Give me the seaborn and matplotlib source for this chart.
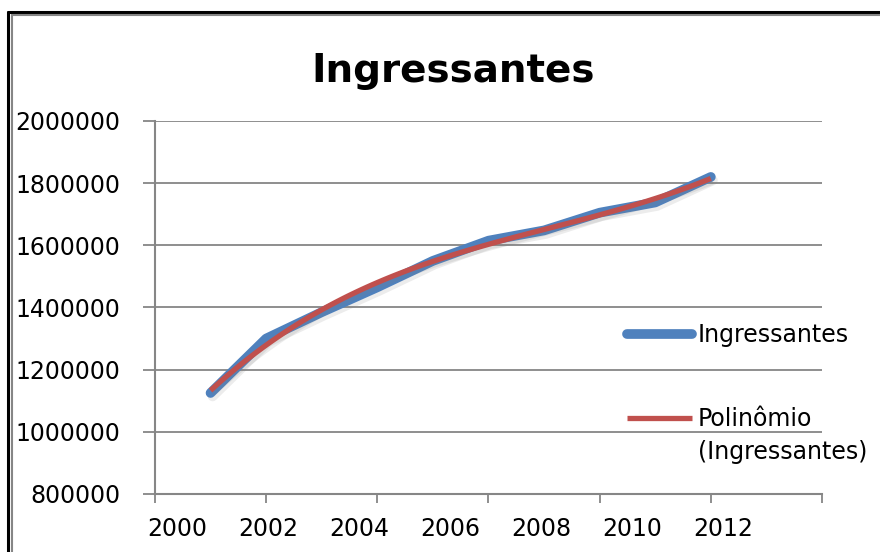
import numpy as np
import pandas as pd
import matplotlib
matplotlib.use("Agg")
import matplotlib.pyplot as plt
import matplotlib.patheffects as pe
from matplotlib.lines import Line2D
import seaborn as sns

# data
years = [2001, 2002, 2003, 2004, 2005, 2006, 2007, 2008, 2009, 2010]
ingressantes = [1125000, 1300000, 1385000, 1465000, 1550000,
                1615000, 1648000, 1705000, 1738000, 1820000]
x_ticks = [2000, 2002, 2004, 2006, 2008, 2010, 2012]
x_labels = ["2000", "2002", "2004", "2006", "2008", "2010", "2012"]
y_ticks = [800000, 1000000, 1200000, 1400000, 1600000, 1800000, 2000000]
legend_labels = ["Ingressantes", "Polinômio"]

df = pd.DataFrame({"Ano": years, "Ingressantes": ingressantes})

sns.set_theme(style="white")
plt.rcParams["font.family"] = ["DejaVu Sans"]

blue = "#4F81BD"
red = "#C0504D"
grid_c = "#868686"

fig = plt.figure(figsize=(8.8, 5.52), dpi=100)
ax = fig.add_axes([0.1761, 0.1051, 0.758, 0.6757])

shadow = [pe.SimpleLineShadow(offset=(1.5, -2.5), shadow_color="gray", alpha=0.15), pe.Normal()]

sns.lineplot(data=df, x="Ano", y="Ingressantes", ax=ax, color=blue, linewidth=7,
             solid_capstyle="round", solid_joinstyle="round")
# polynomial trend line (Excel "Polinômio")
sns.regplot(data=df, x="Ano", y="Ingressantes", ax=ax, order=3, ci=None, scatter=False,
            line_kws={"color": red, "linewidth": 3.8, "solid_capstyle": "butt"})
lines = ax.get_lines()
for ln in lines:
    ln.set_path_effects(shadow)

ax.set_xlim(2000, 2012)
ax.set_ylim(800000, 2000000)
ax.set_yticks(y_ticks)
ax.set_yticklabels([str(v) for v in y_ticks])
ax.set_xticks(x_ticks)
ax.set_xticklabels([""] * len(x_ticks))
# labels sit a little left of the tick marks, as in the original
ax.set_xticks(np.linspace(2000.4, 2010.22, len(x_labels)), minor=True)
ax.set_xticklabels(x_labels, minor=True)
ax.set_xlabel("")
ax.set_ylabel("")

ax.yaxis.grid(True, color=grid_c, linewidth=1.3)
ax.set_axisbelow(True)
for s in ["top", "right"]:
    ax.spines[s].set_visible(False)
for s in ["left", "bottom"]:
    ax.spines[s].set_color(grid_c)
    ax.spines[s].set_linewidth(1.5)

ax.tick_params(axis="y", which="major", length=8.5, width=1.3, color=grid_c,
               pad=16.5, labelsize=17, labelcolor="black", left=True)
ax.tick_params(axis="x", which="major", length=6.5, width=1.3, color=grid_c,
               bottom=True)
ax.tick_params(axis="x", which="minor", length=0, pad=16.5, labelsize=17,
               labelcolor="black", bottom=True)

h_blue = Line2D([], [], color=blue, linewidth=7, solid_capstyle="round")
h_red = Line2D([], [], color=red, linewidth=3.8, solid_capstyle="butt")
leg = ax.legend(handles=[h_blue, h_red], labels=legend_labels,
                loc="upper left", bbox_to_anchor=(0.708, 0.458), frameon=False,
                fontsize=17, handlelength=2.75, handletextpad=0.25,
                labelspacing=2.55, borderpad=0, borderaxespad=0)
for t in leg.get_texts():
    t.set_color("black")
ax.annotate("(Ingressantes)", xy=(0, 0), xycoords=leg.get_texts()[1],
            xytext=(0, -9), textcoords="offset pixels", ha="left", va="top",
            fontsize=17, color="black", zorder=10)

fig.text(0.515, 0.871, "Ingressantes", ha="center", va="center",
         fontsize=28, fontweight="bold", color="black")

# chart frame (double line at top and left)
fig.add_artist(Line2D([7.5 / 880, 1.0], [1 - 12 / 552] * 2, color="black", linewidth=2.2))
fig.add_artist(Line2D([7.5 / 880] * 2, [0.0, 1 - 12 / 552], color="black", linewidth=2.2))
fig.add_artist(Line2D([11.5 / 880, 1.0], [1 - 15 / 552] * 2, color=grid_c, linewidth=1.5))
fig.add_artist(Line2D([11.5 / 880] * 2, [0.0, 1 - 15 / 552], color=grid_c, linewidth=1.5))

fig.savefig("out.png", dpi=100)
